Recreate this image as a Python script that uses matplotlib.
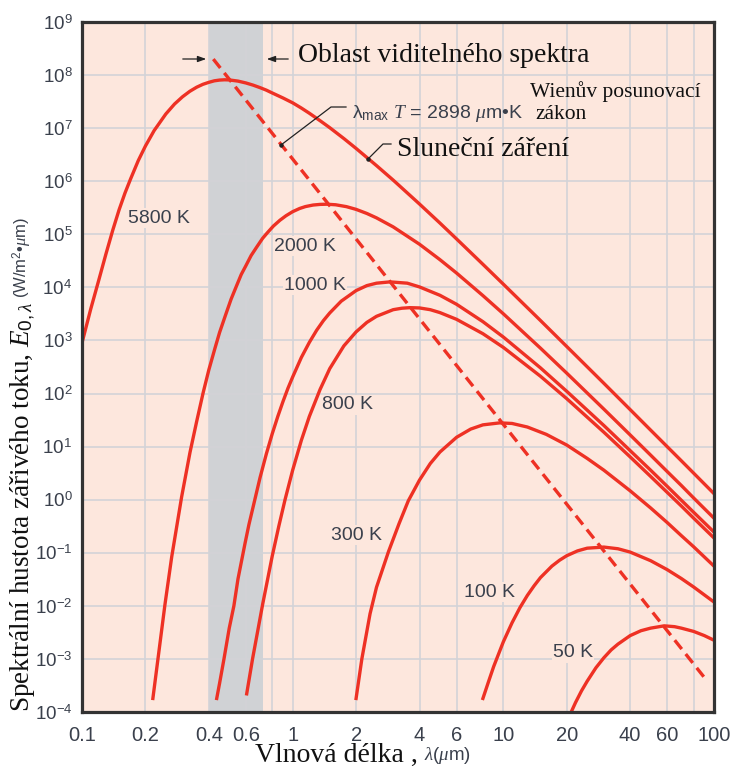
import matplotlib
matplotlib.use('Agg')
import matplotlib.pyplot as plt
from matplotlib.lines import Line2D
from matplotlib.ticker import NullLocator

# hodnoty (vlnova delka v um, E v W/m2.um)
x_5800 = [0.10, 0.11, 0.12, 0.13, 0.14, 0.15, 0.16, 0.17, 0.185, 0.20, 0.22, 0.25, 0.275, 0.30,
          0.325, 0.35, 0.375, 0.40, 0.425, 0.45, 0.475, 0.50, 0.55, 0.60, 0.65, 0.70, 0.75,
          0.80, 0.90, 1.0, 1.1, 1.2, 1.35, 1.5, 1.75, 2.0, 2.5, 3.0, 4.0, 5.0, 6.0, 8.0, 10,
          15, 20, 30, 40, 50, 60, 70, 80, 100]
y_5800 = [9.0e2, 3.9e3, 1.35e4, 4.3e4, 1.2e5, 2.9e5, 6.0e5, 1.1e6, 2.45e6, 4.6e6, 9.0e6,
          1.85e7, 2.85e7, 3.9e7, 4.95e7, 5.9e7, 6.7e7, 7.3e7, 7.8e7, 8.05e7, 8.15e7, 8.1e7,
          7.7e7, 7.1e7, 6.45e7, 5.8e7, 5.2e7, 4.6e7, 3.7e7, 3.0e7, 2.39e7, 1.91e7, 1.38e7,
          1.02e7, 6.37e6, 4.15e6, 1.97e6, 1.05e6, 3.72e5, 1.63e5, 8.17e4, 2.72e4, 1.15e4,
          2.38e3, 769, 156, 49.8, 20.5, 9.95, 5.4, 3.17, 1.30]

x_2000 = [0.217, 0.2477, 0.2665, 0.297, 0.3256, 0.35, 0.376, 0.40, 0.428, 0.45, 0.48, 0.51,
          0.542, 0.57, 0.60, 0.635, 0.675, 0.72, 0.76, 0.81, 0.87, 0.93, 1.0, 1.08, 1.15, 1.25,
          1.35, 1.45, 1.6, 1.8, 2.0, 2.25, 2.5, 3.0, 4.0, 5.0, 6.0, 8.0, 10, 15, 20, 30, 40,
          50, 60, 70, 80, 100]
y_2000 = [1.8e-4, 1.07e-2, 8.3e-2, 1.12, 7.8, 29.5, 104, 279, 720, 1.42e3, 3.0e3, 5.98e3,
          1.08e4, 1.75e4, 2.57e4, 3.98e4, 5.75e4, 8.4e4, 1.08e5, 1.43e5, 1.84e5, 2.24e5,
          2.67e5, 3.07e5, 3.33e5, 3.56e5, 3.66e5, 3.69e5, 3.6e5, 3.32e5, 2.95e5, 2.47e5,
          2.04e5, 1.38e5, 6.5e4, 3.33e4, 1.86e4, 7.0e3, 3.18e3, 717, 242, 50.9, 16.6, 6.93,
          3.38, 1.85, 1.08, 0.448]

x_1000 = [0.436, 0.45, 0.472, 0.50, 0.526, 0.55, 0.594, 0.62, 0.65, 0.70, 0.75, 0.80, 0.85,
          0.90, 0.95, 1.0, 1.1, 1.2, 1.3, 1.4, 1.5, 1.7, 2.0, 2.25, 2.5, 2.9, 3.5, 4.0, 5.0,
          6.0, 8.0, 10, 15, 20, 30, 40, 50, 60, 70, 80, 100]
y_1000 = [1.8e-4, 3.5e-4, 1e-3, 3.8e-3, 1e-2, 3.2e-2, 0.15, 0.34, 0.75, 2.6, 7.3, 17.5, 37,
          71, 126, 205, 480, 920, 1.56e3, 2.37e3, 3.3e3, 5.5e3, 8.7e3, 1.08e4, 1.2e4, 1.27e4,
          1.2e4, 1.02e4, 7.1e3, 4.8e3, 2.26e3, 1.16e3, 305, 110, 25, 8.4, 3.6, 1.78, 0.975,
          0.58, 0.245]

x_800 = [0.605, 0.645, 0.72, 0.80, 0.86, 0.92, 1.0, 1.1, 1.2, 1.35, 1.5, 1.75, 2.0, 2.25, 2.5,
         3.0, 3.3, 3.6, 4.0, 4.5, 5.0, 6.0, 8.0, 10, 15, 20, 30, 40, 50, 60, 70, 80, 100]
y_800 = [2.2e-4, 1.0e-3, 1.06e-2, 8.7e-2, 0.32, 1.0, 3.6, 13.2, 37, 120, 295, 790, 1.45e3,
         2.19e3, 2.85e3, 3.8e3, 4.05e3, 4.15e3, 4.1e3, 3.8e3, 3.35e3, 2.5e3, 1.34e3, 740, 212,
         80, 18.7, 6.4, 2.75, 1.37, 0.76, 0.45, 0.19]

x_300 = [2.0, 2.13, 2.33, 2.5, 2.85, 3.2, 3.54, 4.0, 4.5, 5.0, 6.0, 7.0, 8.0, 9.6, 11, 13, 16,
         20, 25, 30, 40, 50, 60, 70, 80, 100]
y_300 = [1.8e-4, 1e-3, 7.1e-3, 2.24e-2, 0.105, 0.355, 0.955, 2.34, 4.8, 7.9, 15.0, 21.4, 25.7,
         28.0, 27.3, 23.4, 17.0, 10.7, 6.0, 3.6, 1.47, 0.7, 0.37, 0.21, 0.13, 0.056]

x_100 = [8.0, 8.5, 9.0, 10, 11, 12, 13, 14, 15, 17, 18.5, 20, 22.5, 25, 30, 35, 40, 50, 60, 70,
         80, 100]
y_100 = [1.8e-4, 3.7e-4, 7.2e-4, 2.1e-3, 4.8e-3, 9.3e-3, 1.57e-2, 2.39e-2, 3.4e-2, 5.6e-2,
         7.25e-2, 8.8e-2, 0.1085, 0.122, 0.128, 0.119, 0.103, 0.071, 0.048, 0.0327, 0.0227,
         0.0118]

x_50 = [21, 22, 23.5, 25, 27.5, 30, 32.5, 35, 40, 45, 50, 58, 65, 70, 80, 90, 100]
y_50 = [1.0e-4, 1.5e-4, 2.5e-4, 3.8e-4, 6.8e-4, 1.05e-3, 1.48e-3, 1.9e-3, 2.75e-3, 3.4e-3,
        3.8e-3, 4.2e-3, 4.05e-3, 3.8e-3, 3.3e-3, 2.75e-3, 2.25e-3]

# Wienuv posunovaci zakon - primka maxim
x_wien = [0.42, 92]
y_wien = [2.0e8, 4.0e-4]

visible_band = [0.40, 0.72]

curves = [(x_5800, y_5800), (x_2000, y_2000), (x_1000, y_1000), (x_800, y_800),
          (x_300, y_300), (x_100, y_100), (x_50, y_50)]
curve_labels = ['5800 K', '2000 K', '1000 K', '800 K', '300 K', '100 K', '50 K']
label_pos = [(0.232, 2.0e5), (1.144, 6.0e4), (1.276, 1.1e4), (1.83, 61), (2.02, 0.216),
             (8.55, 0.0182), (21.4, 1.3e-3)]

x_ticks = [0.1, 0.2, 0.4, 0.6, 0.8, 1, 2, 4, 6, 10, 20, 40, 60, 80, 100]
x_ticklabels = ['0.1', '0.2', '0.4', '0.6', '', '1', '2', '4', '6', '10', '20', '40', '60', '', '100']
y_exps = list(range(-4, 10))

RED = '#ee3124'
BG = '#fde7dd'
TXT = '#3a404c'

plt.rcParams['font.family'] = ['Liberation Sans', 'DejaVu Sans']
plt.rcParams['mathtext.fontset'] = 'custom'
plt.rcParams['mathtext.rm'] = 'Liberation Sans'
plt.rcParams['mathtext.it'] = 'Liberation Serif:italic'
plt.rcParams['mathtext.sf'] = 'Liberation Sans'
plt.rcParams['mathtext.bf'] = 'Liberation Sans:bold'

W, H = 732, 767


def fp(px, py):
    # pixely odshora zleva -> souradnice obrazku
    return px / W, 1 - py / H


fig = plt.figure(figsize=(W / 100, H / 100), dpi=100)
ax = fig.add_axes([82 / W, 1 - 712 / H, (714 - 82) / W, (712 - 22) / H])
ax.set_facecolor(BG)
ax.set_xscale('log')
ax.set_yscale('log')
ax.set_xlim(0.1, 100)
ax.set_ylim(1e-4, 1e9)

ax.axvspan(visible_band[0], visible_band[1], color='#d0d2d5', lw=0, zorder=0)

ax.set_xticks(x_ticks)
ax.set_xticklabels(x_ticklabels)
ax.set_yticks([10.0 ** e for e in y_exps])
ax.set_yticklabels([r'$10^{%d}$' % e for e in y_exps])
ax.xaxis.set_minor_locator(NullLocator())
ax.yaxis.set_minor_locator(NullLocator())
ax.tick_params(length=0, labelcolor=TXT)
ax.tick_params(axis='x', pad=10, labelsize=14.5)
ax.tick_params(axis='y', pad=7, labelsize=13.5)
ax.grid(True, color='#d3d3d7', lw=1.2)
ax.set_axisbelow(True)
for s in ax.spines.values():
    s.set_linewidth(2.3)
    s.set_color('#333333')
    s.set_zorder(5)

for xs, ys in curves:
    ax.plot(xs, ys, color=RED, lw=2.4, zorder=3, solid_joinstyle='round')
ax.plot(x_wien, y_wien, color=RED, lw=2.4, dashes=(3.4, 1.9), zorder=3)

for (lx, ly), lab in zip(label_pos, curve_labels):
    ax.text(lx, ly, lab, fontsize=14, color=TXT, ha='center', va='center', zorder=2.5,
            bbox=dict(fc=BG, ec='none', pad=1.0))

serif = ['Liberation Serif', 'DejaVu Serif']

# popisky
fig.text(*fp(298, 62), 'Oblast viditelného spektra', family=serif, fontsize=20,
         color='#111111', va='baseline')
fig.text(*fp(530, 97), 'Wienův posunovací', family=serif, fontsize=15.5, color='#111111',
         va='baseline')
fig.text(*fp(535, 119), 'zákon', family=serif, fontsize=15.5, color='#111111', va='baseline')
fig.text(*fp(352, 118), r'$\mathrm{\lambda}_{\mathrm{max}}$ $T$ = 2898 $\mu$m•K',
         fontsize=14, color=TXT, va='baseline')
fig.text(*fp(397, 156), 'Sluneční záření', family=serif, fontsize=20, color='#111111',
         va='baseline')

# sipky k viditelne oblasti
ax.annotate('', xy=fp(209, 59), xytext=fp(180, 59), xycoords='figure fraction',
            arrowprops=dict(arrowstyle='-|>,head_length=0.5,head_width=0.18', lw=0.9, color='#222222'))
ax.annotate('', xy=fp(264, 59), xytext=fp(291, 59), xycoords='figure fraction',
            arrowprops=dict(arrowstyle='-|>,head_length=0.5,head_width=0.18', lw=0.9, color='#222222'))

# vodici cary
for pts in ([(346, 107), (331, 107), (281, 145)], [(391, 144), (383, 144), (368, 159)]):
    xs = [fp(*p)[0] for p in pts]
    ys = [fp(*p)[1] for p in pts]
    fig.add_artist(Line2D(xs, ys, transform=fig.transFigure, color='#222222', lw=0.9))
    fig.add_artist(Line2D([xs[-1]], [ys[-1]], transform=fig.transFigure, color='#222222',
                          marker='o', ms=2.2, lw=0))

# popisky os
fig.text(*fp(255, 762), 'Vlnová délka ,', family=serif, fontsize=20, color='#111111',
         va='baseline')
fig.text(*fp(424, 760.5), r'$\lambda$($\mu$m)', fontsize=13.5, color=TXT, va='baseline')

yl = fig.text(*fp(29.5, 712), r'Spektrální hustota zářivého toku, $E_{0,\lambda}$', family=serif,
              fontsize=19.5, color='#111111', rotation=90, rotation_mode='anchor',
              ha='left', va='baseline')
fig.canvas.draw()
bb = yl.get_window_extent()
fig.text(27 / W, (bb.y1 + 4) / H, r'(W/m$^2$•$\mu$m)', fontsize=12, color=TXT, rotation=90,
         rotation_mode='anchor', ha='left', va='baseline')

fig.savefig('out.png', dpi=100)
